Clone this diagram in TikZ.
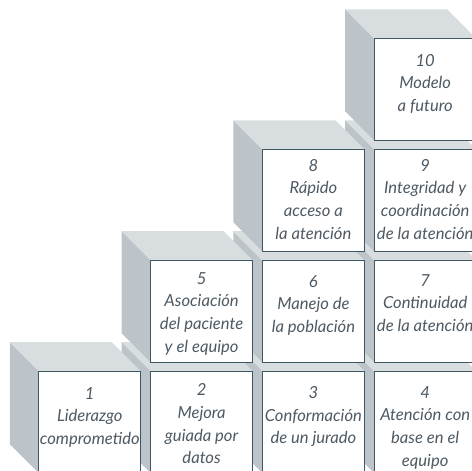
\documentclass[tikz,border=0pt]{standalone}
\usepackage{fontspec}
\setmainfont{Lato}
\usetikzlibrary{calc}

\definecolor{topgray}{HTML}{D8DDE0}
\definecolor{sidegray}{HTML}{BCC4CA}
\definecolor{edgeslate}{HTML}{3F5663}
\definecolor{textslate}{HTML}{4D5A64}

\tikzset{
  frontface/.style={fill=white,draw=edgeslate,line width=1.1pt,
    minimum width=102pt,minimum height=102pt,inner sep=0pt,outer sep=0pt,
    anchor=north west},
  boxtext/.style={anchor=north,inner sep=0pt,align=center,text=textslate,
    font=\itshape\fontsize{16.6}{22.7}\selectfont}
}

\begin{document}
\begin{tikzpicture}[x=1pt,y=1pt]
	\def\dep{29}
	\def\cubew{102}
	\useasboundingbox (0,0) rectangle (472,471);
	\clip (0,0) rectangle (472,471);

	% cubes, back row first: bottom to top, right to left
	\foreach \n/\col/\row/\off/\txt in {
		4/3/0/15/{4\\Atención con\\base en el\\equipo},
		3/2/0/15/{3\\Conformación\\de un jurado},
		2/1/0/12.5/{2\\Mejora\\guiada por\\datos},
		1/0/0/16/{1\\Liderazgo\\comprometido},
		7/3/1/14/{7\\Continuidad\\de la atención},
		6/2/1/15/{6\\Manejo de\\la población},
		5/1/1/12/{5\\Asociación\\del paciente\\y el equipo},
		9/3/2/9.5/{9\\Integridad y\\coordinación\\de la atención},
		8/2/2/9.5/{8\\Rápido\\acceso a\\la atención},
		10/3/3/15.5/{10\\Modelo\\a futuro}}
	{
		\pgfmathsetmacro\xl{38.8+111.8*\col}
		\pgfmathsetmacro\yt{99.9+110.9*\row}
		% side and top
		\fill[sidegray] (\xl,\yt) -- (\xl,\yt-\cubew) -- ++(-\dep,\dep) -- (\xl-\dep,\yt+\dep) -- cycle;
		\fill[topgray] (\xl,\yt) -- (\xl+\cubew,\yt) -- ++(-\dep,\dep) -- (\xl-\dep,\yt+\dep) -- cycle;
		\node[frontface] (c\n) at (\xl,\yt) {};
		\node[boxtext] (t\n) at ($(c\n.north)+(0,-\off)$) {\txt};
	}
\end{tikzpicture}
\end{document}
